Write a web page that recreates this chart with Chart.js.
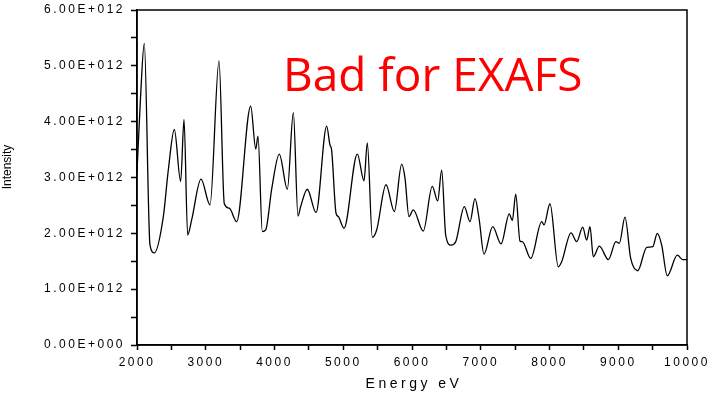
<!DOCTYPE html>
<html>
<head>
<meta charset="utf-8">
<script src="https://cdn.jsdelivr.net/npm/chart.js@4/dist/chart.umd.min.js"></script>
<style>
  html, body { margin: 0; padding: 0; background: #fff; }
  #wrap { width: 711px; height: 397px; }
</style>
</head>
<body>
<div id="wrap"><canvas id="exafsChart"></canvas></div>
<script>
// energy in eV, intensity in units of 1E+012
const energy = [2000, 2050, 2106, 2189, 2252, 2383, 2455, 2543, 2635, 2684, 2737, 2795, 2931, 3062,
	3193, 3270, 3342, 3450, 3654, 3727, 3760, 3823, 3872, 3960, 4070, 4187, 4274, 4342, 4381, 4477,
	4604, 4759, 4807, 4830, 4895, 4928, 5011, 5205, 5302, 5350, 5423, 5486, 5622, 5743, 5850, 5898,
	5956, 6019, 6164, 6295, 6373, 6432, 6490, 6567, 6636, 6761, 6844, 6916, 6975, 7047, 7174, 7295,
	7415, 7459, 7509, 7571, 7605, 7727, 7887, 7920, 8007, 8128, 8177, 8313, 8396, 8483, 8541, 8589,
	8637, 8725, 8856, 8967, 9015, 9098, 9181, 9283, 9414, 9501, 9568, 9632, 9713, 9859, 9937, 10000];
const intensity = [3.1, 4.4, 5.40, 1.79, 1.65, 2.30, 3.13, 3.86, 2.93, 4.04, 1.97, 2.24, 2.97, 2.51,
	5.09, 2.53, 2.45, 2.21, 4.28, 3.51, 3.74, 2.03, 2.06, 2.8, 3.42, 2.79, 4.16, 2.31, 2.48, 2.79,
	2.37, 3.92, 3.58, 3.5, 2.36, 2.30, 2.09, 3.42, 2.94, 3.62, 1.93, 2.06, 2.87, 2.39, 3.24, 2.99,
	2.30, 2.42, 2.04, 2.84, 2.58, 3.13, 1.97, 1.79, 1.85, 2.48, 2.21, 2.62, 2.27, 1.63, 2.12, 1.81,
	2.35, 2.23, 2.70, 1.86, 1.85, 1.55, 2.21, 2.15, 2.53, 1.40, 1.49, 2.01, 1.85, 2.11, 1.88, 2.12,
	1.58, 1.77, 1.53, 1.85, 1.82, 2.29, 1.55, 1.33, 1.75, 1.76, 2.00, 1.79, 1.24, 1.61, 1.53, 1.53];

const xMajor = [2000, 3000, 4000, 5000, 6000, 7000, 8000, 9000, 10000];
const yMajor = [0, 1, 2, 3, 4, 5, 6];
const chartTitle = 'Bad for EXAFS';
const xTitle = 'Energy eV';
const yTitle = 'Intensity';

function yLabel(v) {
	if (v === 0) return '0.00E+000';
	return v.toFixed(2) + 'E+012';
}

// letter spacing for the tick labels, has to be set again after every resize
const spacingPlugin = {
	id: 'spacing',
	beforeUpdate(chart) { chart.ctx.letterSpacing = '2.5px'; },
	beforeDraw(chart) { chart.ctx.letterSpacing = '2.5px'; }
};

// frame around plot, axis titles and the red text inside it
const framePlugin = {
	id: 'frame',
	afterDraw(chart) {
		const ctx = chart.ctx;
		const a = chart.chartArea;
		ctx.save();
		ctx.strokeStyle = '#000';
		ctx.lineWidth = 1.5;
		ctx.strokeRect(a.left, a.top, a.right - a.left, a.bottom - a.top);

		ctx.fillStyle = '#000';
		ctx.textBaseline = 'alphabetic';
		ctx.textAlign = 'center';
		ctx.letterSpacing = '3.5px';
		ctx.font = '14px "Liberation Sans", Arial';
		ctx.fillText(xTitle, (a.left + a.right) / 2 + 2, 388);

		ctx.letterSpacing = '0px';
		ctx.font = '12px "Liberation Sans", Arial';
		ctx.translate(11, 167);
		ctx.rotate(-Math.PI / 2);
		ctx.fillText(yTitle, 0, 0);
		ctx.setTransform(1, 0, 0, 1, 0, 0);

		ctx.fillStyle = '#ff0000';
		ctx.font = '46px "Open Sans"';
		ctx.textAlign = 'left';
		ctx.fillText(chartTitle, 283, 91);
		ctx.restore();
	}
};

const points = energy.map((e, i) => ({ x: e, y: intensity[i] }));

new Chart(document.getElementById('exafsChart'), {
	type: 'line',
	data: {
		datasets: [
			{
				data: points,
				borderColor: '#000',
				borderWidth: 1.3,
				pointRadius: 0,
				fill: false,
				cubicInterpolationMode: 'monotone'
			}
		]
	},
	options: {
		responsive: true,
		maintainAspectRatio: false,
		animation: false,
		layout: { padding: { top: 10, right: 24, left: 0, bottom: 0 } },
		plugins: {
			legend: { display: false },
			tooltip: { enabled: false }
		},
		scales: {
			x: {
				type: 'linear',
				min: 2000,
				max: 10000,
				afterFit: s => { s.height = 52; s.paddingLeft = 0; s.paddingRight = 0; },
				border: { color: '#000', width: 1.5 },
				grid: { drawOnChartArea: false, drawTicks: true, tickLength: 5, tickColor: '#000', tickWidth: 1.5 },
				ticks: {
					stepSize: 500,
					padding: 5,
					color: '#000',
					font: { family: '"Liberation Sans", Arial', size: 12 },
					maxRotation: 0,
					autoSkip: false,
					callback: v => xMajor.includes(v) ? String(v) : ''
				}
			},
			y: {
				min: 0,
				max: 6,
				afterFit: s => { s.width = 137; s.paddingTop = 0; s.paddingBottom = 0; },
				border: { color: '#000', width: 1.5 },
				grid: { drawOnChartArea: false, drawTicks: true, tickLength: 6, tickColor: '#000', tickWidth: 1.5 },
				ticks: {
					stepSize: 0.5,
					padding: 6,
					color: '#000',
					font: { family: '"Liberation Sans", Arial', size: 12 },
					autoSkip: false,
					callback: v => yMajor.includes(v) ? yLabel(v) : ''
				}
			}
		}
	},
	plugins: [spacingPlugin, framePlugin]
});
</script>
</body>
</html>
